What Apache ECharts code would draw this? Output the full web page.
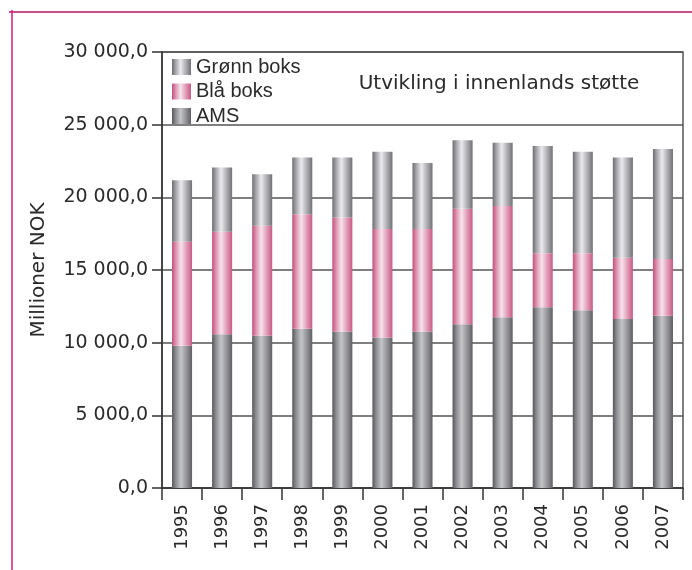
<!DOCTYPE html>
<html>
<head>
<meta charset="utf-8">
<script src="https://cdn.jsdelivr.net/npm/echarts@6/dist/echarts.min.js"></script>
<style>
html,body{margin:0;padding:0;background:#fff;}
#chart{width:692px;height:570px;}
</style>
</head>
<body>
<div id="chart"></div>
<script>
var years = ['1995','1996','1997','1998','1999','2000','2001','2002','2003','2004','2005','2006','2007'];
var ams = [9780, 10580, 10470, 10950, 10760, 10350, 10760, 11270, 11750, 12440, 12230, 11630, 11860];
var blaBoks = [7160, 7050, 7570, 7880, 7860, 7470, 7060, 7940, 7650, 3710, 3920, 4220, 3900];
var gronnBoks = [4240, 4430, 3540, 3910, 4120, 5310, 4550, 4720, 4350, 7390, 6980, 6890, 7570];
var yTicks = [0, 5000, 10000, 15000, 20000, 25000, 30000];
var chartTitle = 'Utvikling i innenlands støtte';
var yName = 'Millioner NOK';

function grad(edge, mid, light, edge2) {
  return new echarts.graphic.LinearGradient(0, 0, 1, 0, [
    {offset: 0, color: edge},
    {offset: 0.18, color: mid},
    {offset: 0.45, color: light},
    {offset: 0.78, color: mid},
    {offset: 1, color: edge2}
  ]);
}
var cAms = grad('#56565b', '#8a8a8f', '#c4c5c9', '#5e5e63');
var cBla = grad('#c24f7f', '#dc8fad', '#f7e3ec', '#c85a88');
var cGronn = grad('#6c6c71', '#a2a2a7', '#ebebee', '#707075');

function fmt(v) {
  var s = String(Math.round(v));
  var out = '';
  while (s.length > 3) { out = ' ' + s.slice(-3) + out; s = s.slice(0, -3); }
  return s + out + ',0';
}

var chart = echarts.init(document.getElementById('chart'));
chart.setOption({
  animation: false,
  backgroundColor: '#ffffff',
  title: {
    text: chartTitle,
    left: 494, textAlign: 'center', top: 69,
    textStyle: {fontFamily: 'DejaVu Sans', fontSize: 20, fontWeight: 'normal', color: '#2a2a2a'}
  },
  legend: {
    data: ['Grønn boks', 'Blå boks', 'AMS'],
    orient: 'vertical', left: 167, top: 52,
    icon: 'rect', itemWidth: 19, itemHeight: 16, itemGap: 4.5,
    textStyle: {fontFamily: 'Liberation Sans', fontSize: 20, color: '#2a2a2a'}
  },
  grid: {left: 162, right: 9, top: 52, bottom: 82, show: true, borderColor: '#555', borderWidth: 1.5, backgroundColor: 'transparent'},
  xAxis: {
    type: 'category', data: years,
    axisLine: {lineStyle: {color: '#333', width: 1.5}},
    axisTick: {show: true, length: 12, alignWithLabel: false, lineStyle: {color: '#333', width: 1.5}},
    axisLabel: {rotate: 90, margin: 16, fontFamily: 'DejaVu Sans', fontSize: 18, color: '#2a2a2a'}
  },
  yAxis: {
    type: 'value', min: yTicks[0], max: yTicks[yTicks.length-1], interval: 5000,
    name: yName, nameLocation: 'middle', nameGap: 113, nameRotate: 90,
    nameTextStyle: {fontFamily: 'DejaVu Sans', fontSize: 20, color: '#2a2a2a'},
    axisLine: {show: true, lineStyle: {color: '#333', width: 1.5}},
    axisTick: {show: true, length: 10, lineStyle: {color: '#333', width: 1.5}},
    axisLabel: {margin: 14, fontFamily: 'DejaVu Sans', fontSize: 19, color: '#2a2a2a', formatter: fmt},
    splitLine: {show: true, lineStyle: {color: '#555', width: 1.5}}
  },
  series: [
    {name: 'AMS', type: 'bar', stack: 's', data: ams, barWidth: '50%', itemStyle: {color: cAms}},
    {name: 'Blå boks', type: 'bar', stack: 's', data: blaBoks, barWidth: '50%', itemStyle: {color: cBla}},
    {name: 'Grønn boks', type: 'bar', stack: 's', data: gronnBoks, barWidth: '50%', itemStyle: {color: cGronn}}
  ],
  graphic: [
    {type: 'line', shape: {x1: 9, y1: 12, x2: 692, y2: 12}, style: {stroke: '#c9508c', lineWidth: 2}},
    {type: 'line', shape: {x1: 12, y1: 10, x2: 12, y2: 570}, style: {stroke: '#d11f78', lineWidth: 1.5}}
  ]
});
</script>
</body>
</html>
